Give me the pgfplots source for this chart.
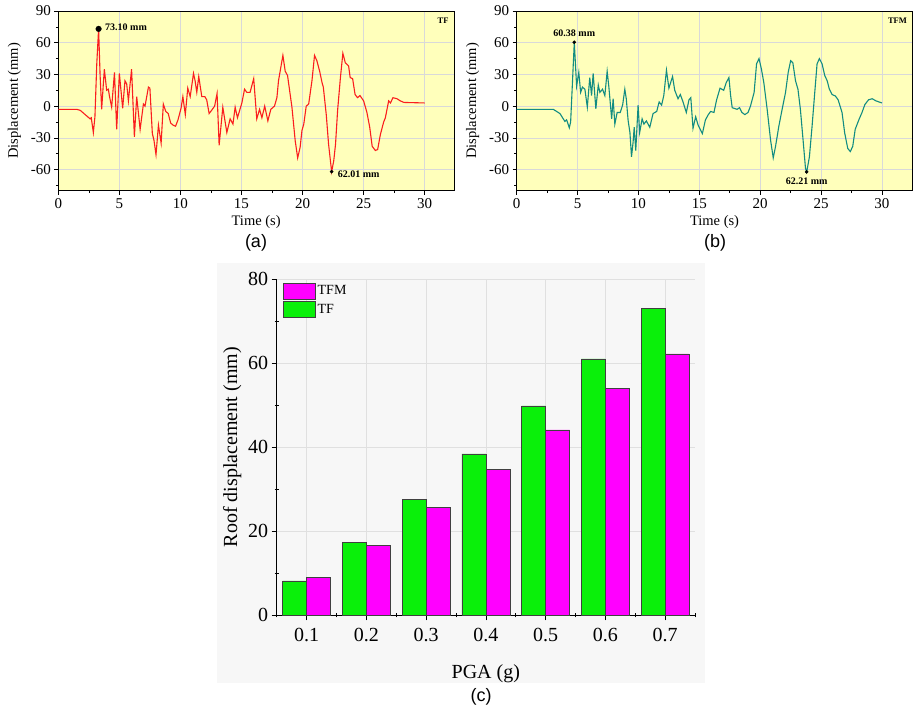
\documentclass[border=0pt]{standalone}
\usepackage{pgfplots}
\pgfplotsset{compat=1.18}
\usepackage{fontspec}
\setmainfont{Liberation Serif}
\newfontfamily\arialfont{Liberation Sans}

\definecolor{bgyellow}{RGB}{255,255,187}
\definecolor{tfred}{RGB}{250,30,30}
\definecolor{tfmteal}{RGB}{18,140,130}
\definecolor{bargreen}{RGB}{10,240,10}
\definecolor{barmag}{RGB}{255,0,255}

\pgfplotsset{
  timeplot/.style={
    scale only axis, width=395.7pt, height=179.7pt, anchor=south west,
    xmin=0, xmax=32.4, ymin=-80, ymax=90,
    xtick={0,5,...,30}, ytick={-90,-60,...,90},
    minor x tick num=1, minor y tick num=1,
    axis background/.style={fill=bgyellow},
    grid=major, major grid style={black!15, line width=0.5pt},
    tick pos=left, tick align=outside,
    major tick length=4pt, minor tick length=2.5pt,
    /pgf/number format/assume math mode=true,
    tick label style={font=\fontsize{15}{15}\selectfont},
    label style={font=\fontsize{14.5}{15}\selectfont},
    xlabel={Time (s)}, ylabel={Displacement (mm)},
    ylabel style={yshift=3pt},
    axis line style={line width=0.6pt},
    every tick/.style={black, line width=0.6pt},
  },
}

\begin{document}
\begin{tikzpicture}
\path[use as bounding box] (0pt,0pt) rectangle (916pt,709pt);
\fill[black!3] (216.7pt,26pt) rectangle (705pt,446pt);

% (a) TF
\begin{axis}[timeplot, at={(58.3pt,518.3pt)}]
\addplot[tfred, line width=1.1pt] coordinates {
(0,-3) (1.5,-3) (1.8,-4) (2.1,-7) (2.4,-10) (2.6,-12) (2.7,-11) (2.87,-25)
(3.0,-10) (3.15,40) (3.3,73.1) (3.42,30) (3.55,-3) (3.77,35) (3.96,15) (4.1,16)
(4.18,10) (4.37,-1) (4.6,32) (4.78,-22) (5.0,31) (5.27,-2) (5.46,24) (5.6,21)
(5.74,5) (6.0,35) (6.23,-29) (6.42,9) (6.7,-22) (6.97,2) (7.1,0) (7.38,18)
(7.5,17) (7.7,-26) (7.83,-32) (8.0,-46) (8.2,-18) (8.42,-35) (8.6,2) (8.8,-5)
(9.0,-7) (9.2,-16) (9.4,-18) (9.6,-19) (9.8,-13) (10.05,-2) (10.2,9) (10.4,-8)
(10.6,17) (10.8,9) (11.07,31) (11.2,24) (11.34,13) (11.5,28) (11.75,9) (12.0,9)
(12.15,6) (12.35,-7) (12.55,-4) (12.8,0) (13.0,12) (13.17,-37) (13.47,-1) (13.8,-25)
(14.07,-12) (14.3,-17) (14.48,-1) (14.67,-11) (15.03,3) (15.25,16) (15.44,13) (15.7,13)
(16.0,26) (16.25,-12) (16.48,-3) (16.67,-11) (16.9,0) (17.16,-14) (17.4,-3) (17.7,0)
(17.9,8) (18.03,24) (18.39,48) (18.58,33) (18.77,29) (19.13,-1) (19.4,-33) (19.6,-49)
(19.8,-39) (19.95,-23) (20.1,-17) (20.3,0) (20.5,2) (20.77,24) (20.98,48) (21.17,43)
(21.4,33) (21.6,22) (21.7,18) (21.94,-8) (22.13,-36) (22.38,-62.01) (22.55,-52) (22.7,-36)
(22.87,-4) (23.1,27) (23.3,50) (23.5,41) (23.77,38) (23.9,27) (24.1,26) (24.3,11)
(24.5,8) (24.7,10) (25.0,5) (25.27,-6) (25.5,-20) (25.7,-38) (25.96,-42) (26.15,-41)
(26.37,-27) (26.64,-15) (26.78,-11) (27.05,5) (27.2,3) (27.4,8) (27.73,7) (28.0,5)
(28.3,3.5) (30,3)
};
\addplot[only marks, mark=*, mark size=2.8pt, black] coordinates {(3.3,73.1)};
\addplot[only marks, mark=*, mark size=1.6pt, black] coordinates {(22.38,-62.01)};
\node[anchor=west, font=\bfseries\fontsize{10}{10}\selectfont] at (axis cs:3.55,74.5) {73.10 mm};
\node[anchor=west, font=\bfseries\fontsize{10}{10}\selectfont] at (axis cs:22.6,-64) {62.01 mm};
\node[anchor=north east, font=\bfseries\fontsize{8.5}{9}\selectfont] at (rel axis cs:0.995,0.98) {TF};
\end{axis}

% (b) TFM
\begin{axis}[timeplot, at={(516.7pt,518.3pt)}, xmax=32.5]
\addplot[tfmteal, line width=1.1pt] coordinates {
(0,-3) (3.0,-3) (3.55,-7) (3.96,-14.5) (4.1,-13) (4.32,-20.5) (4.43,-15) (4.73,60.38)
(4.92,19) (5.1,32) (5.25,13) (5.4,18) (5.6,16) (5.8,-1) (6.0,27) (6.15,10)
(6.28,31) (6.5,-2.5) (6.7,20) (6.83,13) (7.05,16) (7.24,10) (7.43,33) (7.57,18)
(7.8,-12) (7.92,7) (8.06,-17) (8.25,-6) (8.5,-6) (8.7,1) (8.88,16) (9.0,7)
(9.15,-13.5) (9.3,-25) (9.43,-48) (9.56,-34) (9.65,-20) (9.78,-42) (9.97,1) (10.1,-25)
(10.3,-12) (10.45,-17) (10.65,-14) (10.93,-20) (11.2,-7) (11.5,-5) (11.7,4) (11.9,1)
(12.08,10) (12.3,34) (12.5,17) (12.8,28) (12.98,15) (13.25,7) (13.44,11) (13.66,4)
(13.93,-6) (14.15,6) (14.3,8) (14.48,-21) (14.7,-10) (14.9,-18) (15.25,-26) (15.5,-13)
(15.74,-8) (15.93,-5) (16.2,-6) (16.42,6) (16.7,17) (17.0,15) (17.2,22) (17.43,27)
(17.57,10) (17.7,-1.5) (18.1,-3) (18.3,-1.5) (18.5,-6) (18.74,-8) (19.0,-6) (19.2,0)
(19.5,13) (19.7,40) (19.9,45) (20.1,35) (20.3,22) (20.57,-3) (20.85,-32) (21.07,-49)
(21.26,-38) (21.53,-19) (21.8,-3) (22.08,13) (22.3,32) (22.5,43) (22.68,41) (22.9,24)
(23.1,16) (23.3,-3) (23.52,-32) (23.72,-59) (23.82,-62.21) (24.04,-48) (24.26,-19) (24.48,13)
(24.67,40) (24.86,45) (25.08,40) (25.3,29) (25.5,24) (25.68,16) (25.9,11) (26.17,9.6)
(26.4,6) (26.72,-6) (26.94,-25.5) (27.19,-40) (27.4,-43) (27.6,-38) (27.8,-22) (28.1,-13)
(28.36,-6) (28.6,1.6) (28.9,6) (29.2,7) (29.5,5) (30,3)
};
\addplot[only marks, mark=*, mark size=1.6pt, black] coordinates {(4.73,60.38) (23.82,-62.21)};
\node[anchor=south, font=\bfseries\fontsize{10}{10}\selectfont] at (axis cs:4.73,62.5) {60.38 mm};
\node[anchor=north, font=\bfseries\fontsize{10}{10}\selectfont] at (axis cs:23.82,-65) {62.21 mm};
\node[anchor=north east, font=\bfseries\fontsize{8.5}{9}\selectfont] at (rel axis cs:0.995,0.98) {TFM};
\end{axis}

% (c) roof displacement vs PGA
\begin{axis}[
  scale only axis, width=418.3pt, height=336.3pt, at={(276.7pt,93.7pt)}, anchor=south west,
  xmin=0.5, xmax=7.5, ymin=0, ymax=80,
  axis lines=left, axis line style={-, line width=0.7pt},
  xtick={1,...,7}, xticklabels={0.1,0.2,0.3,0.4,0.5,0.6,0.7},
  minor xtick={0.5,1.5,...,7.5},
  ytick={0,20,...,80}, minor ytick={10,30,50,70},
  grid=major, major grid style={black!12, line width=0.5pt},
  tick align=outside, major tick length=5pt, minor tick length=4pt,
  every tick/.style={black, line width=0.7pt},
  minor x tick style={yshift=2pt}, minor y tick style={xshift=2pt},
  /pgf/number format/assume math mode=true,
  tick label style={font=\fontsize{20}{20}\selectfont},
  xticklabel style={yshift=-4pt},
  label style={font=\fontsize{20}{20}\selectfont},
  xlabel={PGA (g)}, ylabel={Roof displacement (mm)},
  xlabel style={yshift=-16pt},
  legend cell align=left,
  legend style={at={(0.015,0.99)}, anchor=north west, draw=none, fill=none,
    font=\fontsize{14}{14}\selectfont, row sep=2pt, inner sep=0pt},
  legend image code/.code={\draw[#1] (0pt,-8pt) rectangle (32pt,8pt);},
]
\addplot[fill=barmag, draw=black!75, line width=0.5pt, ybar, bar width=0.4, bar shift=0.2]
  coordinates {(1,9.0) (2,16.7) (3,25.6) (4,34.8) (5,44.1) (6,53.9) (7,62.21)};
\addlegendentry{TFM}
\addplot[fill=bargreen, draw=black!75, line width=0.5pt, ybar, bar width=0.4, bar shift=-0.2]
  coordinates {(1,8.2) (2,17.3) (3,27.5) (4,38.4) (5,49.8) (6,61.0) (7,73.1)};
\addlegendentry{TF}
\end{axis}

\node[font=\arialfont\fontsize{18}{18}\selectfont] at (256pt,466pt) {(a)};
\node[font=\arialfont\fontsize{18}{18}\selectfont] at (715pt,466pt) {(b)};
\node[font=\arialfont\fontsize{18}{18}\selectfont] at (481pt,12pt) {(c)};
\end{tikzpicture}
\end{document}
